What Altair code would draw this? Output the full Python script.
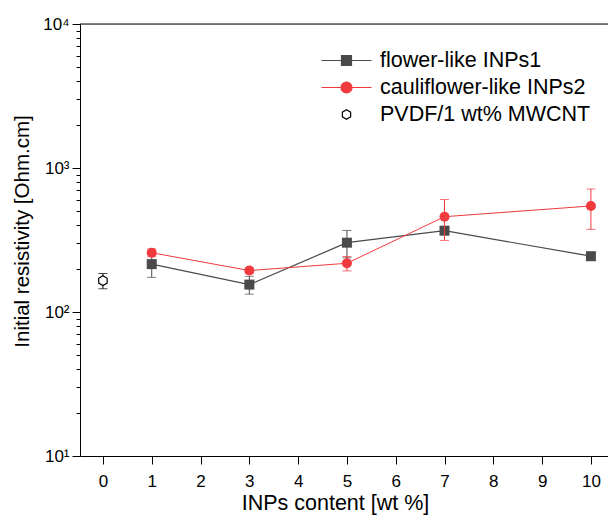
import altair as alt
import pandas as pd

series = ["flower-like INPs1", "cauliflower-like INPs2", "PVDF/1 wt% MWCNT"]
x_vals = [1, 3, 5, 7, 10]
flower = [215, 155, 303, 367, 244]
flower_err = [41, 22, 65, 14, 5]
cauli = [258, 194, 218, 459, 545]
cauli_err = [16, 9, 25, 145, 170]
pvdf_x = [0]
pvdf = [165]
pvdf_err = [20]
x_ticks = list(range(11))
y_major = [10, 100, 1000, 10000]
y_minor = [m * d for d in [10, 100, 1000] for m in range(2, 10)]

GRAY = "#4a4a4a"
RED = "#f03a3e"
FONT = "Liberation Sans"


def frame(xs, ys, es):
    return pd.DataFrame({"x": xs, "y": ys,
                         "lo": [v - e for v, e in zip(ys, es)],
                         "hi": [v + e for v, e in zip(ys, es)]})


d1 = frame(x_vals, flower, flower_err)
d2 = frame(x_vals, cauli, cauli_err)
d3 = frame(pvdf_x, pvdf, pvdf_err)

xscale = alt.Scale(domain=[-0.47, 10.35], nice=False, zero=False)
yscale = alt.Scale(type="log", domain=[10, 10000], nice=False)

xaxis = alt.Axis(values=x_ticks, title="INPs content [wt %]", grid=False,
                 tickSize=8, labelFontSize=17, titleFontSize=21.5,
                 labelPadding=9, titlePadding=3, titleFontWeight="normal",
                 titleX=255,
                 domainColor="black", tickColor="black", labelColor="black",
                 titleColor="black", labelFlush=False)
yaxis = alt.Axis(values=y_major + y_minor, title="Initial resistivity [Ohm.cm]",
                 grid=False,
                 labelExpr="datum.value == 10 ? '10\u00b9' : datum.value == 100 ? '10\u00b2' : datum.value == 1000 ? '10\u00b3' : datum.value == 10000 ? '10\u2074' : ''",
                 tickSize={"condition": {"test": "indexof([10,100,1000,10000], datum.value) >= 0", "value": 8}, "value": 4},
                 labelFontSize=17, titleFontSize=20.5, labelPadding=3,
                 titlePadding=10, titleFontWeight="normal", titleY=207,
                 domainColor="black", tickColor="black", labelColor="black",
                 titleColor="black", labelFlush=False)


def X(f="x"):
    return alt.X(f"{f}:Q", scale=xscale, axis=xaxis)


def Y(f="y"):
    return alt.Y(f"{f}:Q", scale=yscale, axis=yaxis)


def series_layers(df, color, shape, size, line_w, filled=True, stroke=None):
    base = alt.Chart(df)
    ec = color if stroke is None else stroke
    rule = base.mark_rule(color=ec, strokeWidth=1).encode(
        x=X(), y=Y("lo"), y2="hi:Q")
    cap_lo = base.mark_tick(orient="horizontal", size=9, thickness=1,
                            color=ec).encode(x=X(), y=Y("lo"))
    cap_hi = base.mark_tick(orient="horizontal", size=9, thickness=1,
                            color=ec).encode(x=X(), y=Y("hi"))
    layers = [rule, cap_lo, cap_hi]
    if line_w:
        layers.append(base.mark_line(color=color, strokeWidth=line_w).encode(x=X(), y=Y()))
    if filled:
        pts = base.mark_point(shape=shape, filled=True, size=size, color=color, opacity=1).encode(x=X(), y=Y())
    else:
        pts = base.mark_point(shape=shape, filled=False, size=size, fill="white",
                              stroke=stroke, strokeWidth=1.2, opacity=1).encode(x=X(), y=Y())
    layers.append(pts)
    return layers


hexpath = "M0,-1L0.866,-0.5L0.866,0.5L0,1L-0.866,0.5L-0.866,-0.5Z"
leg_paths = [
    "M-2,0H2M-0.4,-0.4H0.4V0.4H-0.4Z",
    "M-2,0H2M0.44,0A0.44,0.44,0,1,1,-0.44,0A0.44,0.44,0,1,1,0.44,0Z",
    "M0,-0.38L0.33,-0.19L0.33,0.19L0,0.38L-0.33,0.19L-0.33,-0.19Z",
]

legend = alt.Legend(title=None, orient="none", legendX=253, legendY=23,
                    labelFontSize=21.5, labelColor="black", labelFont=FONT,
                    labelLimit=0,
                    symbolSize=625, symbolStrokeWidth=1.2, labelOffset=20,
                    rowPadding=3, padding=0, symbolOpacity=1)

leg_df = pd.DataFrame({"series": series, "x": [0, 0, 0], "y": [1, 1, 1]})
legend_layer = alt.Chart(leg_df).mark_point(clip=True, opacity=1).encode(
    x=X(), y=Y(),
    shape=alt.Shape("series:N", scale=alt.Scale(domain=series, range=leg_paths), legend=legend),
    fill=alt.Fill("series:N", scale=alt.Scale(domain=series, range=[GRAY, RED, "white"]), legend=legend),
    stroke=alt.Stroke("series:N", scale=alt.Scale(domain=series, range=[GRAY, RED, "black"]), legend=legend),
)

top_rule = alt.Chart(d3).mark_rule(color="black", strokeWidth=1).encode(y=alt.Y(datum=10000, scale=yscale, axis=yaxis))

layers = [top_rule, legend_layer]
layers += series_layers(d1, GRAY, "square", 100, 1.2)
layers += series_layers(d2, RED, "circle", 100, 1.0)
layers += series_layers(d3, "black", hexpath, 95, 0, filled=False, stroke="black")

chart = alt.layer(*layers).properties(
    width=528, height=432,
    padding={"left": 80, "top": 24, "right": 0, "bottom": 59},
    autosize=alt.AutoSizeParams(type="none"),
).configure_view(stroke=None).configure(font=FONT, background="white")

chart.save("out.html", embed_options={"renderer": "svg", "actions": False})
